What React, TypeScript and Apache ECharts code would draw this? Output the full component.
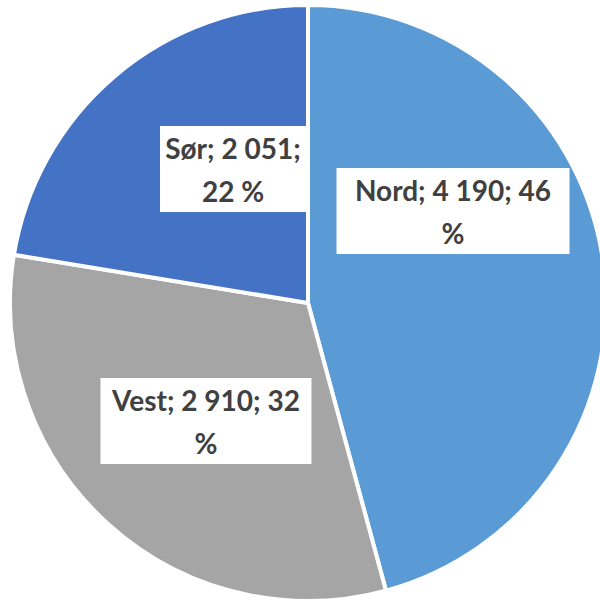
import React, { useEffect, useRef } from "react";
import * as echarts from "echarts";

const categories = ["Nord", "Vest", "Sør"];
const values = [4190, 2910, 2051];
const colors = ["#5B9BD5", "#A5A5A5", "#4472C4"];

// label layout (pixels) – not data
const labelPos: [number, number][] = [
  [453, 211],
  [206, 421],
  [233, 169],
];
const labelWidths = [221, 199, 142];
const breakAfterValue = [false, false, true];

const fmtNum = (v: number) => {
  const s = String(v);
  return s.replace(/\B(?=(\d{3})+(?!\d))/g, " ");
};

export default function App() {
  const ref = useRef<HTMLDivElement>(null);
  useEffect(() => {
    if (!ref.current) return;
    const chart = echarts.init(ref.current, undefined, { renderer: "svg" });
    const total = values.reduce((a, b) => a + b, 0);
    const data = categories.map((name, i) => {
      const pct = Math.round((values[i] / total) * 100);
      const text = breakAfterValue[i]
        ? `${name}; ${fmtNum(values[i])};\n${pct} %`
        : `${name}; ${fmtNum(values[i])}; ${pct}\n%`;
      return {
        name,
        value: values[i],
        itemStyle: { color: colors[i] },
        label: {
          formatter: text,
          width: labelWidths[i],
          padding: i === 2 ? [0, 2] : [0, 6],
        },
      };
    });
    chart.setOption({
      animation: false,
      series: [
        {
          type: "pie",
          center: [308, 303],
          radius: [0, 298],
          startAngle: 90,
          clockwise: true,
          itemStyle: { borderColor: "#ffffff", borderWidth: 4 },
          label: {
            show: true,
            position: "inside",
            color: "#404040",
            fontFamily: "Lato",
            fontWeight: "bold",
            fontSize: 28,
            lineHeight: 43,
            align: "center",
            verticalAlign: "middle",
            backgroundColor: "#ffffff",
            overflow: "none",
            padding: [0, 6],
          },
          labelLine: { show: false },
          labelLayout: (params: any) => {
            const p = labelPos[params.dataIndex];
            return { x: p[0], y: p[1], align: "center", verticalAlign: "middle" };
          },
          emphasis: { disabled: true },
          data,
        },
      ],
    });
    return () => chart.dispose();
  }, []);
  return (
    <div
      ref={ref}
      style={{ position: "fixed", left: 0, top: 0, width: 600, height: 601, background: "#fff" }}
    />
  );
}
